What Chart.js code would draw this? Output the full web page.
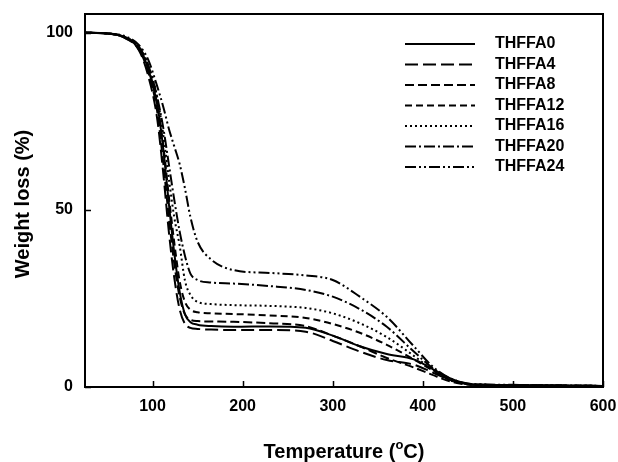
<!DOCTYPE html>
<html>
<head>
<meta charset="utf-8">
<script src="https://cdn.jsdelivr.net/npm/chart.js@4.4.0/dist/chart.umd.min.js"></script>
<style>
  html, body { margin: 0; padding: 0; background: #fff; }
</style>
</head>
<body>
<canvas id="tgaChart" width="618" height="462"></canvas>
<script>
// temperature grid (°C) shared by all curves
const temps = [25, 50, 70, 85, 95, 105, 112, 118, 124, 130, 136, 142, 150, 165, 190, 230, 270, 300, 330, 360, 390, 410, 430, 450, 470, 500, 550, 600];

// weight (%)
const thffa0  = [100, 99.8, 98.6, 95.5, 90, 80, 67, 52, 38, 27, 20.5, 18.3, 17.6, 17.2, 17.0, 17.1, 16.7, 14.5, 11.5, 9.3, 7.8, 5.2, 2.5, 0.9, 0.6, 0.5, 0.4, 0.3];
const thffa4  = [100, 99.8, 98.4, 95.0, 88, 76, 60, 44, 31, 22, 17.8, 16.7, 16.4, 16.2, 16.1, 16.1, 15.6, 13.0, 10.0, 7.6, 6.3, 4.2, 2.0, 0.8, 0.6, 0.5, 0.4, 0.3];
const thffa8  = [100, 99.8, 98.5, 95.2, 89, 78, 63, 48, 35, 25.5, 20.5, 19.0, 18.6, 18.5, 18.4, 18.0, 17.2, 14.5, 11.5, 8.2, 5.5, 3.5, 1.6, 0.7, 0.6, 0.5, 0.4, 0.3];
const thffa12 = [100, 99.8, 98.6, 95.6, 90, 80, 68, 54, 41, 30, 24, 21.8, 21.1, 20.8, 20.6, 20.2, 19.5, 17.8, 15.3, 11.9, 7.8, 4.8, 2.0, 0.8, 0.6, 0.5, 0.4, 0.3];
const thffa16 = [100, 99.8, 98.7, 96.0, 91, 82, 71, 59, 48, 40, 30, 26, 24, 23.4, 23.1, 22.9, 22.3, 20.8, 18.0, 14.1, 8.8, 5.0, 2.0, 0.8, 0.6, 0.5, 0.4, 0.3];
const thffa20 = [100, 99.8, 98.7, 96.0, 91, 82, 73, 63, 53, 44, 37, 32, 30.2, 29.5, 29.2, 28.5, 27.4, 25.5, 22.0, 17.0, 10.0, 5.5, 2.0, 0.8, 0.6, 0.5, 0.4, 0.3];
const thffa24 = [100, 99.8, 99.0, 96.5, 92.5, 85, 79, 73, 68, 63, 56, 48, 41, 36, 33, 32.2, 31.5, 30.2, 25.5, 19.8, 11.5, 6.0, 2.5, 1.0, 0.7, 0.6, 0.4, 0.3];

const seriesNames = ["THFFA0", "THFFA4", "THFFA8", "THFFA12", "THFFA16", "THFFA20", "THFFA24"];
const seriesValues = [thffa0, thffa4, thffa8, thffa12, thffa16, thffa20, thffa24];
const dashes = [[], [13, 5], [9, 4], [7, 4], [2, 3], [11, 3, 2, 3], [11, 3, 2, 3, 2, 3]];

const xTicks = [100, 200, 300, 400, 500, 600];
const yTicks = [0, 50, 100];

const FONT = "'Liberation Sans', Arial, sans-serif";

// frame, inward ticks, legend and axis titles
const decor = {
  id: "decor",
  afterDraw(chart) {
    const c = chart.ctx;
    const a = chart.chartArea;
    const xs = chart.scales.x, ys = chart.scales.y;
    c.save();
    c.strokeStyle = "#000";
    c.lineWidth = 2;
    c.setLineDash([]);
    c.strokeRect(a.left, a.top, a.right - a.left, a.bottom - a.top);

    c.lineWidth = 1.5;
    c.beginPath();
    xTicks.forEach(v => {
      const px = Math.round(xs.getPixelForValue(v)) + 0.5;
      c.moveTo(px, a.bottom);
      c.lineTo(px, a.bottom - 6);
    });
    yTicks.forEach(v => {
      const py = Math.round(ys.getPixelForValue(v)) + 0.5;
      c.moveTo(a.left, py);
      c.lineTo(a.left + 6, py);
    });
    c.stroke();

    // legend
    c.fillStyle = "#000";
    c.font = "bold 16px " + FONT;
    c.textBaseline = "middle";
    c.textAlign = "left";
    chart.data.datasets.forEach((ds, i) => {
      const y = 44 + i * 20.5;
      c.lineWidth = 1.8;
      c.setLineDash(ds.borderDash || []);
      c.beginPath();
      c.moveTo(405, y);
      c.lineTo(475, y);
      c.stroke();
      c.fillText(ds.label, 495, y);
    });
    c.setLineDash([]);

    // x title with superscript o
    const main = "bold 20px " + FONT, sup = "bold 13px " + FONT;
    const p1 = "Temperature (", p2 = "o", p3 = "C)";
    c.font = main; const w1 = c.measureText(p1).width, w3 = c.measureText(p3).width;
    c.font = sup; const w2 = c.measureText(p2).width;
    let x = (a.left + a.right) / 2 - (w1 + w2 + w3) / 2;
    c.textBaseline = "alphabetic";
    c.font = main; c.fillText(p1, x, 458); x += w1;
    c.font = sup; c.fillText(p2, x, 449); x += w2;
    c.font = main; c.fillText(p3, x, 458);

    // y title
    c.translate(23, 204);
    c.rotate(-Math.PI / 2);
    c.textAlign = "center";
    c.textBaseline = "middle";
    c.font = main;
    c.fillText("Weight loss (%)", 0, 0);
    c.restore();
  }
};

const ctx = document.getElementById("tgaChart").getContext("2d");
const chart = new Chart(ctx, {
  type: "line",
  data: {
    datasets: seriesNames.map((name, i) => ({
      label: name,
      data: temps.map((t, j) => ({ x: t, y: seriesValues[i][j] })),
      borderColor: "#000",
      borderWidth: 2,
      borderDash: dashes[i],
      pointRadius: 0,
      fill: false,
      cubicInterpolationMode: "monotone"
    }))
  },
  options: {
    responsive: false,
    animation: false,
    layout: { padding: { top: 14, right: 15, left: 0, bottom: 0 } },
    plugins: { legend: { display: false }, tooltip: { enabled: false } },
    scales: {
      x: {
        type: "linear",
        min: 25,
        max: 600,
        afterBuildTicks: s => { s.ticks = xTicks.map(v => ({ value: v })); },
        afterFit: s => { s.height = 75; s.paddingLeft = 0; s.paddingRight = 0; },
        grid: { display: false, drawTicks: false },
        border: { display: false },
        ticks: { padding: 10, color: "#000", font: { family: FONT, size: 16, weight: "bold" } }
      },
      y: {
        type: "linear",
        min: 0,
        max: 105.3,
        afterBuildTicks: s => { s.ticks = yTicks.map(v => ({ value: v })); },
        afterFit: s => { s.width = 85; s.paddingTop = 0; s.paddingBottom = 0; },
        grid: { display: false, drawTicks: false },
        border: { display: false },
        ticks: { padding: 12, color: "#000", font: { family: FONT, size: 16, weight: "bold" } }
      }
    }
  },
  plugins: [decor]
});
</script>
</body>
</html>
